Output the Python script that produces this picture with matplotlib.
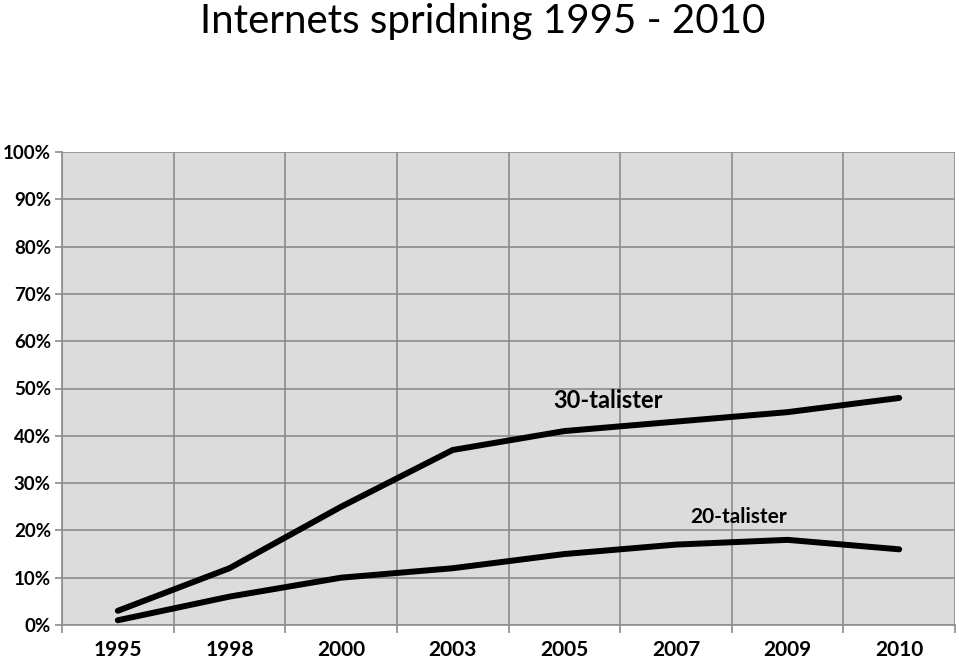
import matplotlib.pyplot as plt
import numpy as np
from matplotlib.ticker import FixedLocator, FuncFormatter

plt.rcParams['font.family'] = ['Lato', 'DejaVu Sans']

years = ['1995', '1998', '2000', '2003', '2005', '2007', '2009', '2010']
talister_30 = [3, 12, 25, 37, 41, 43, 45, 48]
talister_20 = [1, 6, 10, 12, 15, 17, 18, 16]

fig = plt.figure(figsize=(9.59, 6.62), dpi=100)
ax = fig.add_axes([62 / 959, 1 - 625 / 662, 893 / 959, 473 / 662])
ax.set_facecolor('#dcdcdc')

x = np.arange(len(years))
ax.plot(x, talister_30, color='black', lw=4.3, solid_capstyle='round', zorder=3)
ax.plot(x, talister_20, color='black', lw=4.3, solid_capstyle='round', zorder=3)

ax.text(4.39, 47.4, '30-talister', ha='center', va='center', fontsize=17, fontweight='bold')
ax.text(5.56, 22.8, '20-talister', ha='center', va='center', fontsize=15, fontweight='bold')

ax.set_xlim(-0.5, len(years) - 0.5)
ax.set_ylim(0, 100)
ax.set_yticks(np.arange(0, 101, 10))
ax.yaxis.set_major_formatter(FuncFormatter(lambda v, p: f'{v:.0f}%'))
ax.set_xticks(x)
ax.set_xticklabels(years)
ax.xaxis.set_minor_locator(FixedLocator(np.arange(-0.5, len(years), 1)))

ax.grid(axis='y', which='major', color='#8c8c8c', lw=1.2)
ax.grid(axis='x', which='minor', color='#8c8c8c', lw=1.2)
ax.tick_params(axis='x', which='major', length=0, pad=11, labelsize=15)
ax.tick_params(axis='x', which='minor', length=6, color='#8c8c8c', width=1.2)
ax.tick_params(axis='y', length=5, color='#8c8c8c', width=1.2, pad=3, labelsize=13.5)
for lab in ax.get_xticklabels() + ax.get_yticklabels():
    lab.set_fontweight('bold')

for s in ['top', 'right']:
    ax.spines[s].set_visible(False)
for s in ['left', 'bottom']:
    ax.spines[s].set_color('#8c8c8c')
    ax.spines[s].set_linewidth(1.2)

fig.text(0.503, 0.967, 'Internets spridning 1995 - 2010', ha='center', va='center', fontsize=29)

fig.savefig('out.png', dpi=100)
